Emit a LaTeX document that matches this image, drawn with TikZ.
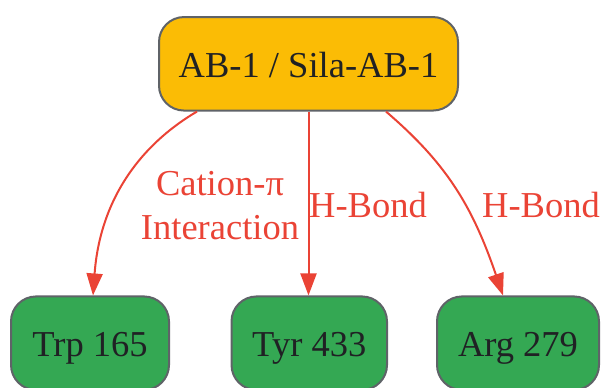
\documentclass[tikz,border=0pt]{standalone}
\usepackage{fontspec}
\setmainfont{Liberation Serif}
\usetikzlibrary{arrows.meta}
\definecolor{gyellow}{HTML}{FBBC05}
\definecolor{ggreen}{HTML}{34A853}
\definecolor{gred}{HTML}{EA4335}
\definecolor{gborder}{HTML}{5F6368}
\definecolor{gtext}{HTML}{202124}
\tikzset{
  box/.style={draw=gborder, line width=2pt, rounded corners=25pt, minimum height=93.5pt,
    inner sep=0pt, text=gtext, font=\fontsize{36.5}{44}\selectfont, text height=27pt, text depth=0pt},
  topbox/.style={box, fill=gyellow},
  resbox/.style={box, fill=ggreen},
  link/.style={draw=gred, line width=2pt, -{Triangle[length=22pt,width=16pt]}},
  lbl/.style={text=gred, font=\fontsize{36.5}{44}\selectfont, align=center, inner sep=0pt}
}
\begin{document}
\begin{tikzpicture}[x=1pt,y=-1pt]
\useasboundingbox (0,0) rectangle (605,388);
\node[topbox, minimum width=299pt] (top) at (308.5,63.8) {AB-1 / Sila-AB-1};
\node[resbox, minimum width=158pt] (trp) at (90,343.2) {Trp 165};
\node[resbox, minimum width=155.5pt] (tyr) at (309.25,343.2) {Tyr 433};
\node[resbox, minimum width=162pt] (arg) at (518,343.2) {Arg 279};
\draw[link] ([xshift=-111.5pt]top.south) .. controls (140,145) and (100,200) .. ([xshift=3pt]trp.north);
\draw[link] (top.south) -- (top.south |- tyr.north);
\draw[link] ([xshift=77.5pt]top.south) .. controls (446,163) and (472,205) .. ([xshift=-15pt]arg.north);
\node[lbl] (l1) at (220,206) {Cation-π\\Interaction};
\node[lbl] (l2) at (368,205) {H-Bond};
\node[lbl] (l3) at (541,205) {H-Bond};
\end{tikzpicture}
\end{document}
